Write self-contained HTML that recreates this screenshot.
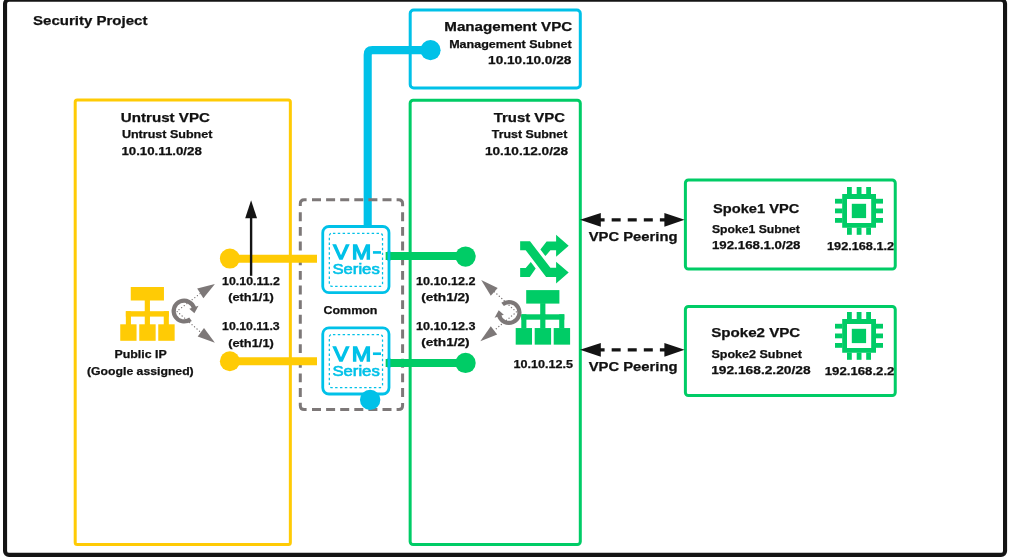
<!DOCTYPE html>
<html><head><meta charset="utf-8"><title>Security Project</title>
<style>html,body{margin:0;padding:0;background:#fff;overflow:hidden;}svg{display:block;position:absolute;left:0;top:0;will-change:transform;}text{font-family:"Liberation Sans",sans-serif;font-weight:bold;fill:#111;stroke:#111;stroke-width:0.25px;}.vm{font-weight:normal;fill:#00C1E8;stroke:#00C1E8;}</style></head><body>
<svg width="1012" height="559" viewBox="0 0 1012 559">
<rect x="0" y="0" width="1012" height="559" fill="#fff"/>
<rect x="5.05" y="-0.2" width="1000" height="555.1" rx="4" fill="none" stroke="#141414" stroke-width="4.1"/>
<rect x="75.20" y="100.10" width="215.15" height="444.40" rx="2" fill="none" stroke="#FFCB05" stroke-width="3"/>
<rect x="410.20" y="10.00" width="170.10" height="78.00" rx="3.5" fill="none" stroke="#00C1E8" stroke-width="3"/>
<rect x="410.15" y="100.20" width="170.15" height="444.30" rx="3" fill="none" stroke="#00CC66" stroke-width="3"/>
<rect x="685.40" y="180.00" width="209.85" height="89.05" rx="3" fill="none" stroke="#00CC66" stroke-width="3"/>
<rect x="685.40" y="306.55" width="209.85" height="88.90" rx="3" fill="none" stroke="#00CC66" stroke-width="3"/>
<path d="M367.7 226 V54.85 Q367.7 50.15 372.4 50.15 H430" fill="none" stroke="#00C1E8" stroke-width="8.1"/>
<circle cx="430.5" cy="50.15" r="10.1" fill="#00C1E8"/>
<rect x="322.75" y="226.50" width="66.25" height="66.2" rx="6.2" fill="#fff" stroke="#00C1E8" stroke-width="2.8"/>
<rect x="329.33" y="233.25" width="53.2" height="53.1" rx="2.5" fill="none" stroke="#00C1E8" stroke-width="1.25" stroke-dasharray="2.45 2.394" stroke-dashoffset="-1.1"/>
<text class="vm" x="333.18" y="259.4" font-size="20.6" style="stroke-width:1.3px" textLength="15.50" lengthAdjust="spacingAndGlyphs">V</text>
<text class="vm" x="351.67" y="259.4" font-size="20.6" style="stroke-width:1.3px" textLength="19.49" lengthAdjust="spacingAndGlyphs">M</text>
<rect x="372.95" y="251.10" width="8.05" height="2.65" fill="#00C1E8"/>
<text class="vm" x="332.40" y="274.2" font-size="14.4" style="stroke-width:0.6px" textLength="47.36" lengthAdjust="spacingAndGlyphs">Series</text>
<rect x="322.75" y="327.80" width="66.25" height="66.2" rx="6.2" fill="#fff" stroke="#00C1E8" stroke-width="2.8"/>
<rect x="329.33" y="334.55" width="53.2" height="53.1" rx="2.5" fill="none" stroke="#00C1E8" stroke-width="1.25" stroke-dasharray="2.45 2.394" stroke-dashoffset="-1.1"/>
<text class="vm" x="333.18" y="360.8" font-size="20.6" style="stroke-width:1.3px" textLength="15.50" lengthAdjust="spacingAndGlyphs">V</text>
<text class="vm" x="351.67" y="360.8" font-size="20.6" style="stroke-width:1.3px" textLength="19.49" lengthAdjust="spacingAndGlyphs">M</text>
<rect x="372.95" y="352.40" width="8.05" height="2.65" fill="#00C1E8"/>
<text class="vm" x="332.40" y="375.5" font-size="14.4" style="stroke-width:0.6px" textLength="47.36" lengthAdjust="spacingAndGlyphs">Series</text>
<path d="M312.00 199.8 H321.00 M312.00 409.6 H321.00 M326.10 199.8 H335.10 M326.10 409.6 H335.10 M340.20 199.8 H349.20 M340.20 409.6 H349.20 M354.30 199.8 H363.30 M354.30 409.6 H363.30 M368.40 199.8 H377.40 M368.40 409.6 H377.40 M382.50 199.8 H391.50 M382.50 409.6 H391.50 M300.3 212.30 V221.20 M402.6 212.30 V221.20 M300.3 226.95 V235.85 M402.6 226.95 V235.85 M300.3 241.60 V250.50 M402.6 241.60 V250.50 M300.3 256.25 V265.15 M402.6 256.25 V265.15 M300.3 270.90 V279.80 M402.6 270.90 V279.80 M300.3 285.55 V294.45 M402.6 285.55 V294.45 M300.3 300.20 V309.10 M402.6 300.20 V309.10 M300.3 314.85 V323.75 M402.6 314.85 V323.75 M300.3 329.50 V338.40 M402.6 329.50 V338.40 M300.3 344.15 V353.05 M402.6 344.15 V353.05 M300.3 358.80 V367.70 M402.6 358.80 V367.70 M300.3 373.45 V382.35 M402.6 373.45 V382.35 M300.3 388.10 V397.00 M402.6 388.10 V397.00 M300.3 206 V203.8 Q300.3 199.8 304.3 199.8 H306.6 M396.6 199.8 H398.6 Q402.6 199.8 402.6 203.8 V206.2 M300.3 402.8 V405.6 Q300.3 409.6 304.3 409.6 H306.6 M396.6 409.6 H398.6 Q402.6 409.6 402.6 405.6 V403" fill="none" stroke="#7d7878" stroke-width="3"/>
<circle cx="370.15" cy="399.85" r="10.2" fill="#00C1E8"/>
<line x1="230" y1="258.8" x2="317" y2="258.8" stroke="#FFCB05" stroke-width="8"/>
<circle cx="229.86" cy="258.6" r="10" fill="#FFCB05"/>
<line x1="230" y1="361.2" x2="317" y2="361.2" stroke="#FFCB05" stroke-width="8"/>
<circle cx="229.86" cy="361.25" r="10" fill="#FFCB05"/>
<line x1="251.1" y1="275.8" x2="251.1" y2="216" stroke="#141414" stroke-width="2.4"/>
<polygon points="251.1,200.2 245.2,218.2 257,218.2" fill="#141414"/>
<line x1="385.65" y1="256.03" x2="465" y2="256.03" stroke="#00CC66" stroke-width="7.9"/>
<circle cx="465.55" cy="256.55" r="10.15" fill="#00CC66"/>
<line x1="388.95" y1="251.02999999999997" x2="388.95" y2="261.03" stroke="#00C1E8" stroke-width="2.8"/>
<line x1="385.65" y1="362.93" x2="465" y2="362.93" stroke="#00CC66" stroke-width="7.9"/>
<circle cx="465.55" cy="362.95" r="10.15" fill="#00CC66"/>
<line x1="388.95" y1="357.93" x2="388.95" y2="367.93" stroke="#00C1E8" stroke-width="2.8"/>
<g transform="translate(120.25 287.0)" fill="#FFCB05">
<rect x="10.5" y="0" width="33.2" height="13.5"/>
<rect x="24.5" y="13" width="5.2" height="12"/>
<rect x="5.6" y="24.2" width="43" height="5.4"/>
<rect x="5.6" y="24.2" width="5.1" height="14"/>
<rect x="24.5" y="24.2" width="5.2" height="14"/>
<rect x="43.5" y="24.2" width="5.1" height="14"/>
<rect x="0" y="37.3" width="16.3" height="16.5"/>
<rect x="19.0" y="37.3" width="16.4" height="16.5"/>
<rect x="38.0" y="37.3" width="16.4" height="16.5"/>
</g>
<g transform="translate(515.7 290.1)" fill="#00CC66">
<rect x="10.5" y="0" width="33.2" height="13.5"/>
<rect x="24.5" y="13" width="5.2" height="12"/>
<rect x="5.6" y="24.2" width="43" height="5.4"/>
<rect x="5.6" y="24.2" width="5.1" height="14"/>
<rect x="24.5" y="24.2" width="5.2" height="14"/>
<rect x="43.5" y="24.2" width="5.1" height="14"/>
<rect x="0" y="37.95" width="16.3" height="16.6"/>
<rect x="19.0" y="37.95" width="16.4" height="16.6"/>
<rect x="38.0" y="37.95" width="16.4" height="16.6"/>
</g>
<g fill="#00CC66">
<path d="M520.15 241.3 H530.05 L550.4 267.8 H556.1 V261.65 L568.7 272.4 L556.1 283.45 V276.9 H546.1 L525.7 250.2 H520.15 Z"/>
<path d="M520.15 268.1 H525.7 L530.8 262 L535.7 268.4 L529.8 276.9 H520.15 Z"/>
<path d="M540.4 249.6 L546.6 241.6 H556.1 V234.8 L568.7 245.8 L556.1 256.8 V250.2 H550.4 L545.4 256.1 Z"/>
</g>
<path d="M200.1 293.6 L176.8 311.3 L200.8 332.3" fill="none" stroke="#7d7878" stroke-width="1.3" stroke-linecap="round" stroke-linejoin="round" stroke-dasharray="0.1 3.2"/>
<polygon points="214.9,284 197.2,288.6 203.4,298.2" fill="#7d7878"/>
<polygon points="214.9,342.8 204,328 197.7,336.6" fill="#7d7878"/>
<path d="M494.4 291.8 L516.5 312 L494.4 330.2" fill="none" stroke="#7d7878" stroke-width="1.3" stroke-linecap="round" stroke-linejoin="round" stroke-dasharray="0.1 3.2"/>
<polygon points="481.2,280 497.7,287.9 490.8,295.8" fill="#7d7878"/>
<polygon points="480.3,341.2 490.8,326.3 497.2,334.5" fill="#7d7878"/>
<g transform="translate(184.1 311.05) rotate(0)">
<path d="M6.40 8.20 A10.4 10.4 0 1 1 10.09 -2.52" fill="none" stroke="#7d7878" stroke-width="4.2"/>
<polygon points="5.2,-2.2 14.4,-5.3 10.3,2.3" fill="#7d7878"/>
</g>
<g transform="translate(509 312.5) rotate(180)">
<path d="M6.40 8.20 A10.4 10.4 0 1 1 10.09 -2.52" fill="none" stroke="#7d7878" stroke-width="4.2"/>
<polygon points="5.2,-2.2 14.4,-5.3 10.3,2.3" fill="#7d7878"/>
</g>
<line x1="595.6" y1="219.8" x2="670" y2="219.8" stroke="#141414" stroke-width="3.3" stroke-dasharray="9 7.07"/>
<polygon points="580.0,219.8 600.8,212.9 600.8,226.70000000000002" fill="#141414"/>
<polygon points="684.6,219.8 664.4,212.9 664.4,226.70000000000002" fill="#141414"/>
<line x1="595.6" y1="349.8" x2="670" y2="349.8" stroke="#141414" stroke-width="3.3" stroke-dasharray="9 7.07"/>
<polygon points="580.0,349.8 600.8,342.90000000000003 600.8,356.7" fill="#141414"/>
<polygon points="684.6,349.8 664.4,342.90000000000003 664.4,356.7" fill="#141414"/>
<g transform="translate(835 187)" fill="#00CC66">
<path fill-rule="evenodd" d="M7.2 7 H41 V40.8 H7.2 Z M12 12.1 V35.9 H36.2 V12.1 Z"/>
<rect x="16.8" y="16.8" width="14.3" height="14.3"/>
<rect x="12" y="0" width="4.8" height="7.5"/>
<rect x="12" y="40.5" width="4.8" height="7.3"/>
<rect x="0" y="11.8" width="7.5" height="4.8"/>
<rect x="40.5" y="11.8" width="7.5" height="4.8"/>
<rect x="21.7" y="0" width="4.8" height="7.5"/>
<rect x="21.7" y="40.5" width="4.8" height="7.3"/>
<rect x="0" y="21.5" width="7.5" height="4.8"/>
<rect x="40.5" y="21.5" width="7.5" height="4.8"/>
<rect x="31.2" y="0" width="4.8" height="7.5"/>
<rect x="31.2" y="40.5" width="4.8" height="7.3"/>
<rect x="0" y="31.0" width="7.5" height="4.8"/>
<rect x="40.5" y="31.0" width="7.5" height="4.8"/>
</g>
<g transform="translate(835 312)" fill="#00CC66">
<path fill-rule="evenodd" d="M7.2 7 H41 V40.8 H7.2 Z M12 12.1 V35.9 H36.2 V12.1 Z"/>
<rect x="16.8" y="16.8" width="14.3" height="14.3"/>
<rect x="12" y="0" width="4.8" height="7.5"/>
<rect x="12" y="40.5" width="4.8" height="7.3"/>
<rect x="0" y="11.8" width="7.5" height="4.8"/>
<rect x="40.5" y="11.8" width="7.5" height="4.8"/>
<rect x="21.7" y="0" width="4.8" height="7.5"/>
<rect x="21.7" y="40.5" width="4.8" height="7.3"/>
<rect x="0" y="21.5" width="7.5" height="4.8"/>
<rect x="40.5" y="21.5" width="7.5" height="4.8"/>
<rect x="31.2" y="0" width="4.8" height="7.5"/>
<rect x="31.2" y="40.5" width="4.8" height="7.3"/>
<rect x="0" y="31.0" width="7.5" height="4.8"/>
<rect x="40.5" y="31.0" width="7.5" height="4.8"/>
</g>
<text x="33.0" y="25.0" font-size="12.7" textLength="114.4" lengthAdjust="spacingAndGlyphs">Security Project</text>
<text x="120.8" y="122.0" font-size="12.7" textLength="89.1" lengthAdjust="spacingAndGlyphs">Untrust VPC</text>
<text x="121.9" y="138.3" font-size="10.7" textLength="90.5" lengthAdjust="spacingAndGlyphs">Untrust Subnet</text>
<text x="121.4" y="154.6" font-size="10.7" textLength="80.4" lengthAdjust="spacingAndGlyphs">10.10.11.0/28</text>
<text x="222.1" y="285.1" font-size="10.7" textLength="57.8" lengthAdjust="spacingAndGlyphs">10.10.11.2</text>
<text x="228.2" y="301.4" font-size="10.7" textLength="45.6" lengthAdjust="spacingAndGlyphs">(eth1/1)</text>
<text x="222.1" y="330.2" font-size="10.7" textLength="57.6" lengthAdjust="spacingAndGlyphs">10.10.11.3</text>
<text x="228.2" y="346.5" font-size="10.7" textLength="45.6" lengthAdjust="spacingAndGlyphs">(eth1/1)</text>
<text x="114.5" y="358.2" font-size="10.7" textLength="52.2" lengthAdjust="spacingAndGlyphs">Public IP</text>
<text x="87.0" y="374.6" font-size="10.7" textLength="106.7" lengthAdjust="spacingAndGlyphs">(Google assigned)</text>
<text x="323.5" y="314.0" font-size="10" textLength="53.9" lengthAdjust="spacingAndGlyphs">Common</text>
<text x="415.9" y="284.8" font-size="10.7" textLength="59.5" lengthAdjust="spacingAndGlyphs">10.10.12.2</text>
<text x="421.2" y="301.0" font-size="10.7" textLength="48.4" lengthAdjust="spacingAndGlyphs">(eth1/2)</text>
<text x="415.9" y="329.8" font-size="10.7" textLength="59.6" lengthAdjust="spacingAndGlyphs">10.10.12.3</text>
<text x="421.2" y="346.2" font-size="10.7" textLength="48.4" lengthAdjust="spacingAndGlyphs">(eth1/2)</text>
<text x="513.5" y="367.9" font-size="10.7" textLength="59.5" lengthAdjust="spacingAndGlyphs">10.10.12.5</text>
<text x="588.7" y="241.1" font-size="12.2" textLength="88.8" lengthAdjust="spacingAndGlyphs">VPC Peering</text>
<text x="588.7" y="371.1" font-size="12.2" textLength="88.8" lengthAdjust="spacingAndGlyphs">VPC Peering</text>
<text x="444.3" y="30.6" font-size="12.7" textLength="127.9" lengthAdjust="spacingAndGlyphs">Management VPC</text>
<text x="449.2" y="48.0" font-size="10.7" textLength="122.4" lengthAdjust="spacingAndGlyphs">Management Subnet</text>
<text x="488.1" y="64.2" font-size="10.7" textLength="83.2" lengthAdjust="spacingAndGlyphs">10.10.10.0/28</text>
<text x="493.7" y="122.0" font-size="12.7" textLength="71.3" lengthAdjust="spacingAndGlyphs">Trust VPC</text>
<text x="491.8" y="138.4" font-size="10.7" textLength="75.5" lengthAdjust="spacingAndGlyphs">Trust Subnet</text>
<text x="484.9" y="154.8" font-size="10.7" textLength="83.2" lengthAdjust="spacingAndGlyphs">10.10.12.0/28</text>
<text x="713.1" y="212.7" font-size="12.7" textLength="86.2" lengthAdjust="spacingAndGlyphs">Spoke1 VPC</text>
<text x="712.0" y="233.0" font-size="10.7" textLength="87.9" lengthAdjust="spacingAndGlyphs">Spoke1 Subnet</text>
<text x="712.0" y="249.1" font-size="10.7" textLength="88.4" lengthAdjust="spacingAndGlyphs">192.168.1.0/28</text>
<text x="827.0" y="250.2" font-size="10.7" textLength="67.1" lengthAdjust="spacingAndGlyphs">192.168.1.2</text>
<text x="711.2" y="337.0" font-size="12.7" textLength="89.1" lengthAdjust="spacingAndGlyphs">Spoke2 VPC</text>
<text x="711.4" y="358.0" font-size="10.7" textLength="90.6" lengthAdjust="spacingAndGlyphs">Spoke2 Subnet</text>
<text x="711.2" y="374.1" font-size="10.7" textLength="99.4" lengthAdjust="spacingAndGlyphs">192.168.2.20/28</text>
<text x="824.8" y="375.2" font-size="10.7" textLength="69.6" lengthAdjust="spacingAndGlyphs">192.168.2.2</text>
</svg></body></html>
